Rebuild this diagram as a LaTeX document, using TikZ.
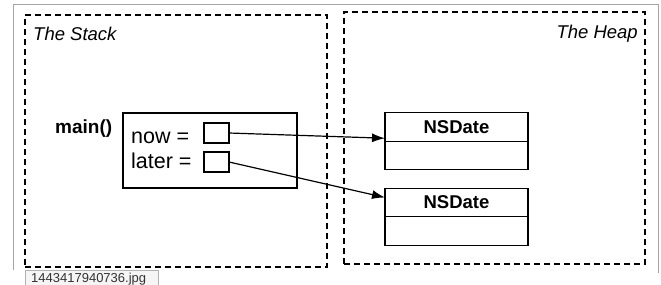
\documentclass[tikz,border=0pt]{standalone}
\usepackage{fontspec}
\setmainfont{Liberation Sans}
\usetikzlibrary{positioning,arrows.meta}

\begin{document}
\begin{tikzpicture}[
	x=1pt,y=-1pt,
	area/.style={
	  draw,
	  dashed,
	  dash pattern=on 6pt off 4pt,
	  line width=1.2pt,
	  minimum height=252pt,
	  inner sep=0pt
	},
	frame/.style={
	  draw,
	  line width=1.2pt,
	  inner sep=0pt,
	  outer sep=0pt
	},
	slot/.style={
	  frame,
	  minimum width=25pt,
	  minimum height=20pt
	},
	cell/.style={
	  frame,
	  minimum width=143pt,
	  minimum height=28.5pt,
	  font=\fontsize{18.5}{22}\selectfont\bfseries
	},
	var/.style={
	  anchor=base west,
	  inner sep=0pt,
	  font=\fontsize{21.5}{25}\selectfont
	},
	title/.style={
	  inner sep=0pt,
	  font=\fontsize{18.5}{22}\selectfont\itshape
	},
	ptr/.style={
	  -{Latex[length=13pt,width=9pt]},
	  line width=1.2pt
	}
]
\useasboundingbox (0,0) rectangle (661,284);

% window edge
\draw[gray!70,line width=0.8pt] (13,270) -- (13,4) -- (658,4) -- (658,273);

% the stack
\node[area,minimum width=302pt] (stack) at (176,141) {};
\node[title,anchor=base west] (stacklbl) at (33,40) {The Stack};

\node[anchor=base west,inner sep=0pt,
  font=\fontsize{19}{22}\selectfont\bfseries] (mainlbl) at (55,133) {main()};
\node[frame,minimum width=174pt,minimum height=75pt] (frm) at (210,150.5) {};

\node[var] (nowlbl) at (131,143) {now =};
\node[var] (laterlbl) at (131,168) {later =};
\node[slot] (now) at (216.5,133) {};
\node[slot] (later) at (216.5,162) {};

% the heap
\node[area,minimum width=301pt] (heap) at (494.5,138) {};
\node[title,anchor=base east] (heaplbl) at (638,38) {The Heap};

\node[cell] (date1) at (456.5,127) {NSDate};
\node[cell,below=0pt of date1] (body1) {};

\node[cell] (date2) at (456.5,202.5) {NSDate};
\node[cell,below=0pt of date2] (body2) {};

% pointers
\draw[ptr] (now.east) -- ([yshift=3pt]date1.south west);
\draw[ptr] (later.east) -- ([yshift=5pt]date2.west);

% file name tip
\node[draw=gray!60,fill=gray!8,anchor=north west,minimum width=133pt,
  minimum height=16pt,inner sep=0pt] (tip) at (25,270) {};
\node[anchor=base west,inner sep=0pt,text=black!80,
  font=\fontsize{13}{15}\selectfont] (tiplbl) at (31,282.5) {1443417940736.jpg};

\end{tikzpicture}
\end{document}
